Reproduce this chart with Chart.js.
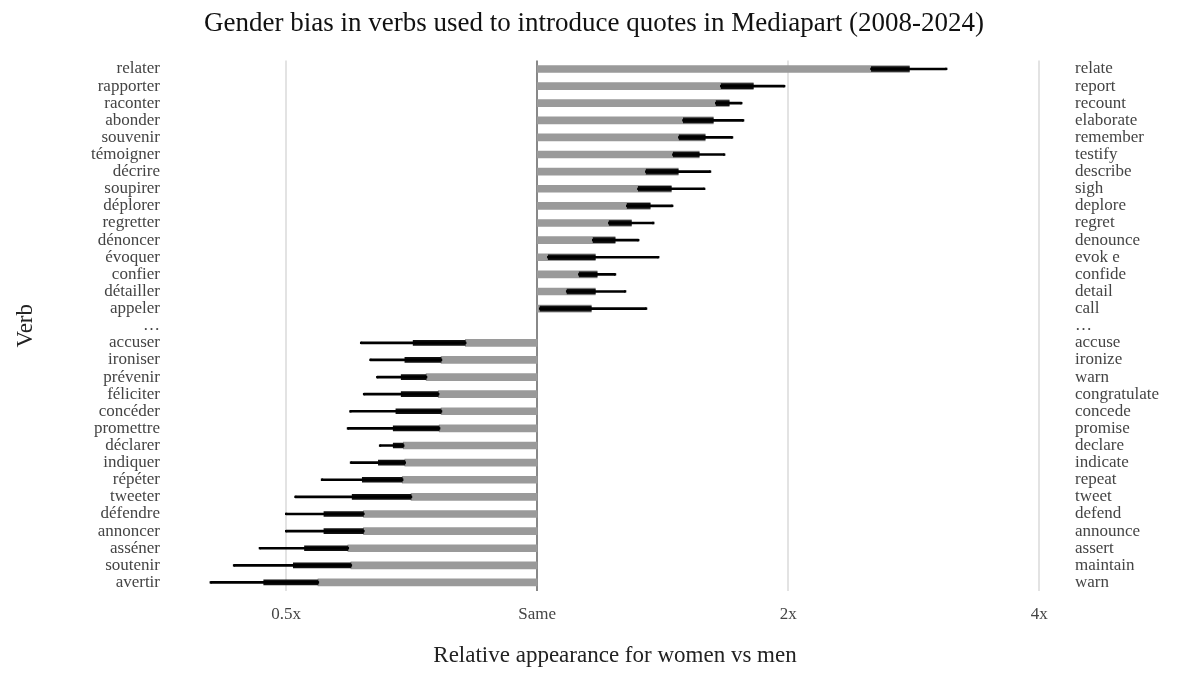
<!DOCTYPE html>
<html><head><meta charset="utf-8">
<script src="https://cdn.jsdelivr.net/npm/chart.js@4"></script>
<style>html,body{margin:0;background:#fff}#w{width:1200px;height:684px}</style>
</head><body><div id="w"><canvas id="c"></canvas></div>
<script>
const verbs=["relater","rapporter","raconter","abonder","souvenir","témoigner","décrire","soupirer","déplorer","regretter","dénoncer","évoquer","confier","détailler","appeler","…","accuser","ironiser","prévenir","féliciter","concéder","promettre","déclarer","indiquer","répéter","tweeter","défendre","annoncer","asséner","soutenir","avertir"];
const english=["relate","report","recount","elaborate","remember","testify","describe","sigh","deplore","regret","denounce","evok e","confide","detail","call","…","accuse","ironize","warn","congratulate","concede","promise","declare","indicate","repeat","tweet","defend","announce","assert","maintain","warn"];
const barEnd=[2.794,1.816,1.699,1.626,1.590,1.564,1.476,1.448,1.366,1.297,1.240,1.174,1.180,1.174,1.161,null,0.820,0.767,0.736,0.761,0.767,0.763,0.691,0.694,0.689,0.706,0.619,0.619,0.593,0.598,0.546];
const darkFrom=[2.516,1.662,1.639,1.497,1.480,1.456,1.351,1.322,1.282,1.220,1.167,1.031,1.123,1.086,1.008,null,0.710,0.694,0.687,0.687,0.677,0.672,0.672,0.645,0.617,0.600,0.555,0.555,0.526,0.510,0.470];
const whiskerEnd=[3.094,1.978,1.757,1.766,1.713,1.676,1.612,1.586,1.452,1.378,1.322,1.397,1.240,1.275,1.351,null,0.615,0.631,0.643,0.620,0.597,0.593,0.648,0.598,0.552,0.513,0.5,0.5,0.465,0.433,0.406];
const xTicks=[0.5,1,2,4];
const xTickLabels=["0.5x","Same","2x","4x"];

const grey=verbs.map((v,i)=>barEnd[i]==null?null:[1,barEnd[i]]);
const dark=verbs.map((v,i)=>barEnd[i]==null?null:[darkFrom[i],barEnd[i]]);
const farEnd=i=>barEnd[i]>1?darkFrom[i]:barEnd[i];
const whisk=verbs.map((v,i)=>barEnd[i]==null?null:[farEnd(i),whiskerEnd[i]]);
const caps=[];
verbs.forEach((v,i)=>{if(barEnd[i]!=null){caps.push({x:farEnd(i),y:v});caps.push({x:whiskerEnd[i],y:v});}});
const F="'Liberation Serif','DejaVu Serif',serif";
new Chart(document.getElementById('c'),{
 type:'bar',
 data:{labels:verbs,datasets:[
  {type:'scatter',data:caps,pointStyle:'rect',pointRadius:1.6,backgroundColor:'#000',borderWidth:0,order:0,yAxisID:'y'},
  {data:whisk,backgroundColor:'#000',barThickness:2,order:1},
  {data:dark,backgroundColor:'#111',barThickness:5,order:2},
  {data:grey,backgroundColor:'#9a9a9a',barThickness:7,order:3}
 ]},
 options:{responsive:true,maintainAspectRatio:false,animation:false,indexAxis:'y',
  datasets:{bar:{grouped:false}},
  layout:{padding:{left:8,right:20,top:0,bottom:10}},
  plugins:{legend:{display:false},tooltip:{enabled:false},
   title:{display:true,text:'Gender bias in verbs used to introduce quotes in Mediapart (2008-2024)',font:{family:F,size:27,weight:'normal'},color:'#111',padding:{top:8,bottom:20}}},
  scales:{
   x:{type:'logarithmic',min:0.373,max:4.12,
    afterBuildTicks:s=>{s.ticks=xTicks.map(v=>({value:v}));},
    ticks:{callback:(v)=>xTickLabels[xTicks.indexOf(v)]??'',font:{family:F,size:17},color:'#444',padding:13},
    grid:{color:c=>c.tick&&c.tick.value===1?'#888':'#e3e3e3',lineWidth:2,drawTicks:false},border:{display:false},
    title:{display:true,text:'Relative appearance for women vs men',font:{family:F,size:23},color:'#222',padding:{top:5}}},
   y:{type:'category',afterFit:s=>{s.width=172;},ticks:{font:{family:F,size:17},color:'#444',padding:12,autoSkip:false},grid:{display:false},border:{display:false},
    title:{display:true,text:'Verb',font:{family:F,size:23},color:'#222'}},
   y2:{type:'category',position:'right',afterFit:s=>{s.width=130;},labels:english,ticks:{font:{family:F,size:17},color:'#444',padding:17,autoSkip:false},grid:{display:false},border:{display:false}}
  }}
});
</script></body></html>
